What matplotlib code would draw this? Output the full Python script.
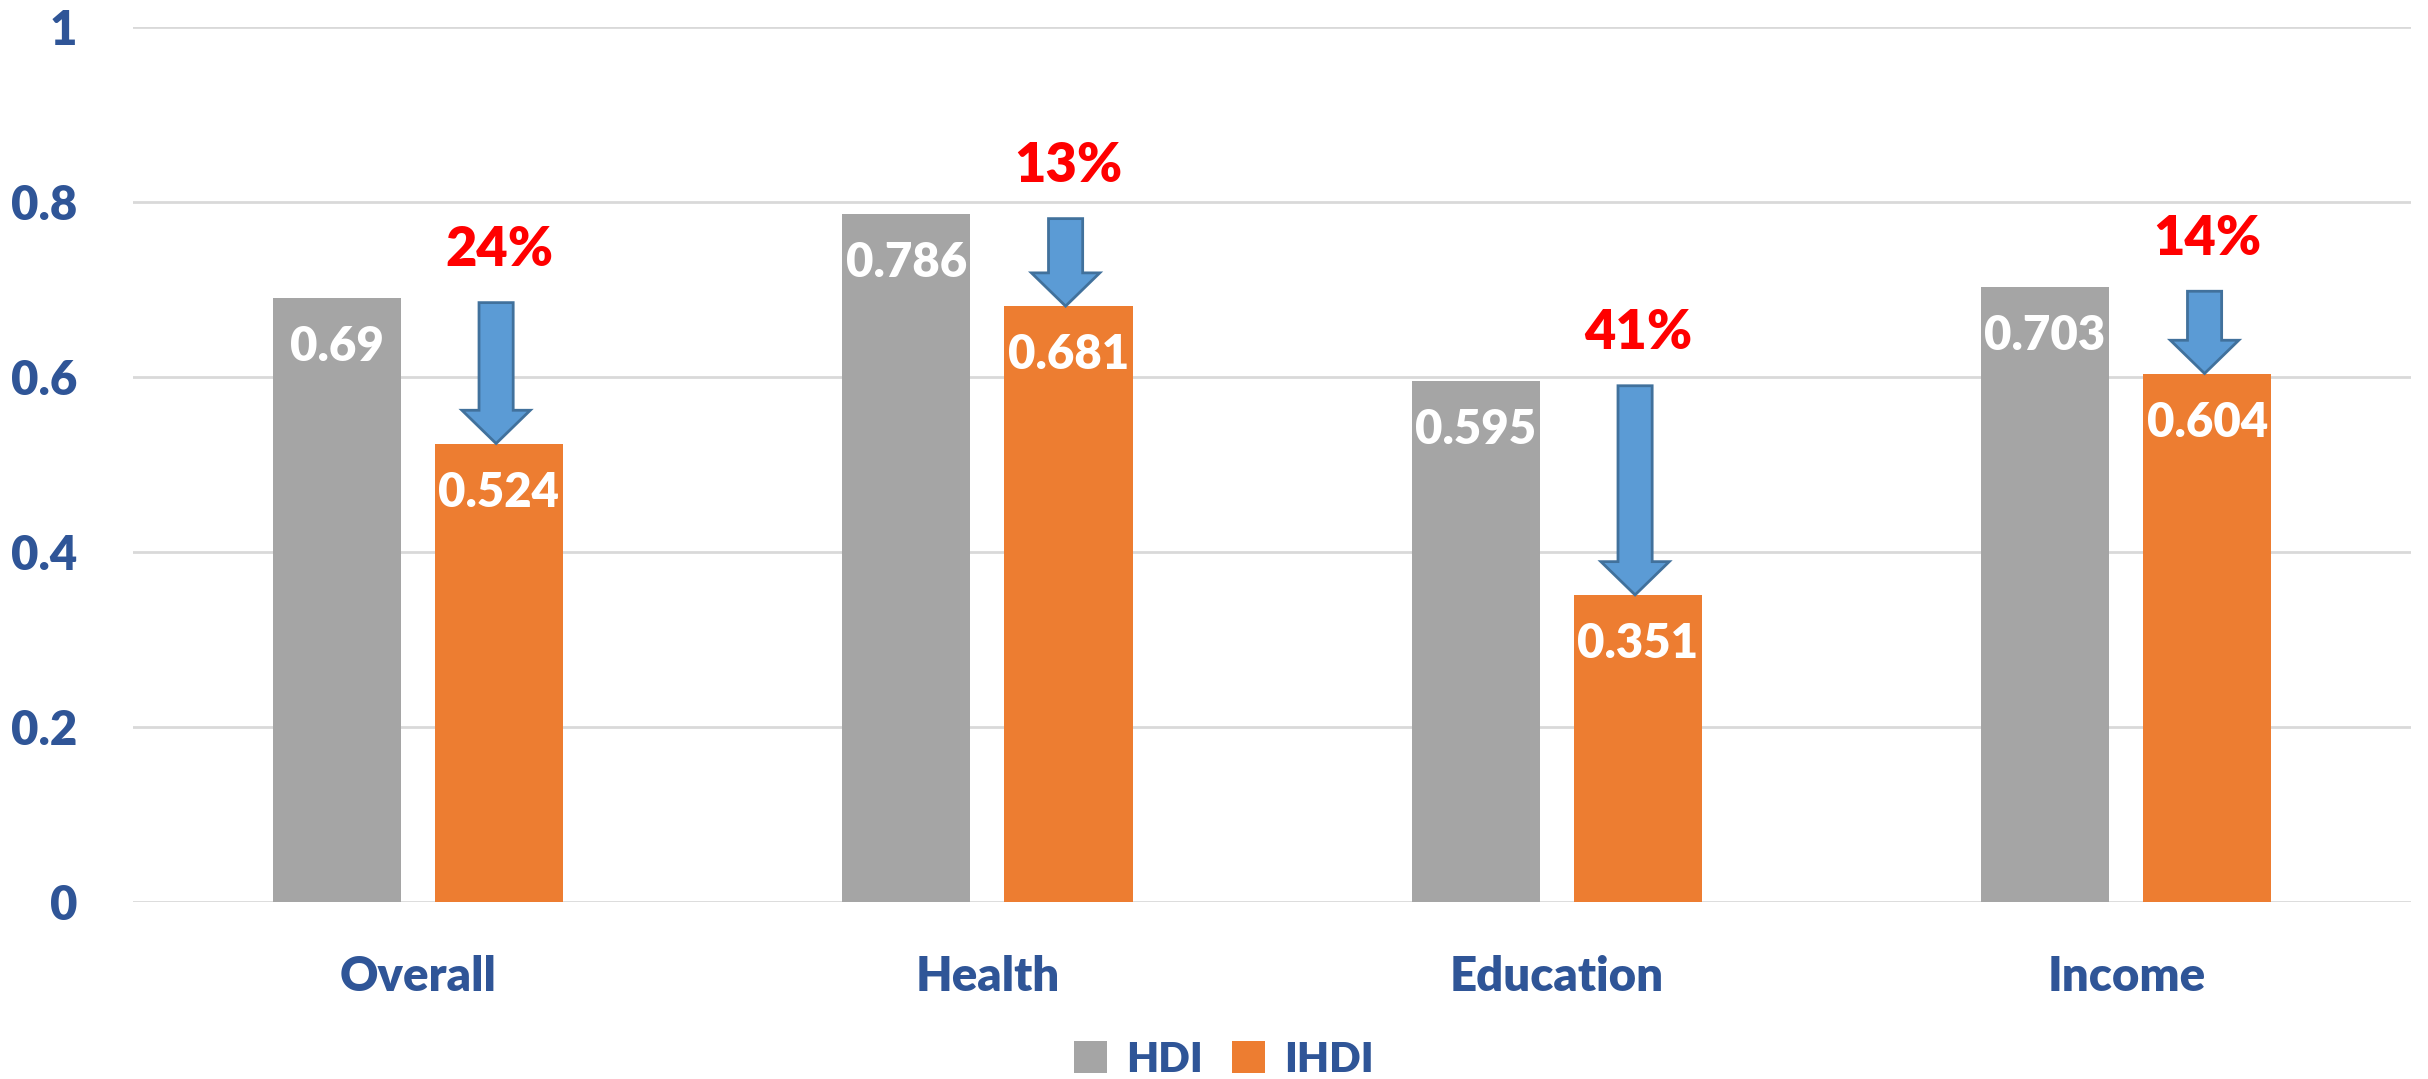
import numpy as np
import matplotlib
matplotlib.use('Agg')
from matplotlib import pyplot as plt
import matplotlib.patches as mpatches
from matplotlib.ticker import FuncFormatter

# data
categories = ['Overall', 'Health', 'Education', 'Income']
hdi = [0.69, 0.786, 0.595, 0.703]
ihdi = [0.524, 0.681, 0.351, 0.604]
hdi_labels = ['0.69', '0.786', '0.595', '0.703']
ihdi_labels = ['0.524', '0.681', '0.351', '0.604']

GRAY = '#A5A5A5'
ORANGE = '#ED7D31'
BLUE = '#2F5597'
plt.rcParams['font.family'] = ['Lato', 'DejaVu Sans']

fig = plt.figure(figsize=(24.28, 10.79), dpi=100)
ax = fig.add_axes([0.0548, 0.164, 0.9382, 0.811])

x = np.arange(len(categories))
w = 0.225
off = 0.1425
ax.bar(x - off, hdi, w, color=GRAY, label='HDI', zorder=2)
ax.bar(x + off, ihdi, w, color=ORANGE, label='IHDI', zorder=2)

for i in range(len(categories)):
    ax.text(x[i] - off, hdi[i] - 0.056, hdi_labels[i], ha='center', va='center',
            color='white', fontsize=34, fontweight='heavy', zorder=3)
    ax.text(x[i] + off, ihdi[i] - 0.056, ihdi_labels[i], ha='center', va='center',
            color='white', fontsize=34, fontweight='heavy', zorder=3)
    # drop arrow from HDI level to IHDI level
    top = hdi[i] - 0.005
    arr = mpatches.FancyArrow(x[i] + off - 0.005, top, 0, -(top - ihdi[i]),
                              width=0.06, head_width=0.12, head_length=0.038,
                              length_includes_head=True, facecolor='#5B9BD5',
                              edgecolor='#41719C', linewidth=2, zorder=4)
    ax.add_patch(arr)
    pct = round((hdi[i] - ihdi[i]) / hdi[i] * 100)
    ax.text(x[i] + off, hdi[i] + 0.055, '{}%'.format(pct), ha='center', va='center',
            color='#FF0000', fontsize=39, fontweight='heavy', zorder=3)

ax.set_xlim(-0.5, len(categories) - 0.5)
ax.set_ylim(0, 1)
ax.set_yticks([0, 0.2, 0.4, 0.6, 0.8, 1.0])
ax.yaxis.set_major_formatter(FuncFormatter(lambda v, p: '{:g}'.format(v)))
ax.set_xticks(x)
ax.set_xticklabels(categories)
ax.tick_params(axis='both', length=0, labelsize=34, labelcolor=BLUE)
ax.tick_params(axis='y', pad=40)
ax.tick_params(axis='x', pad=38)
for lbl in ax.get_xticklabels() + ax.get_yticklabels():
    lbl.set_fontweight('heavy')
ax.grid(axis='y', color='#D9D9D9', linewidth=2, zorder=0)
for s in ax.spines.values():
    s.set_visible(False)

leg = fig.legend(loc='center', bbox_to_anchor=(0.504, 0.018), ncol=2, frameon=False,
                 prop={'size': 30, 'weight': 'heavy'}, handlelength=0.8,
                 handleheight=0.8, handletextpad=0.45, columnspacing=0.7)
for t in leg.get_texts():
    t.set_color(BLUE)

fig.savefig('out.png', dpi=100)
